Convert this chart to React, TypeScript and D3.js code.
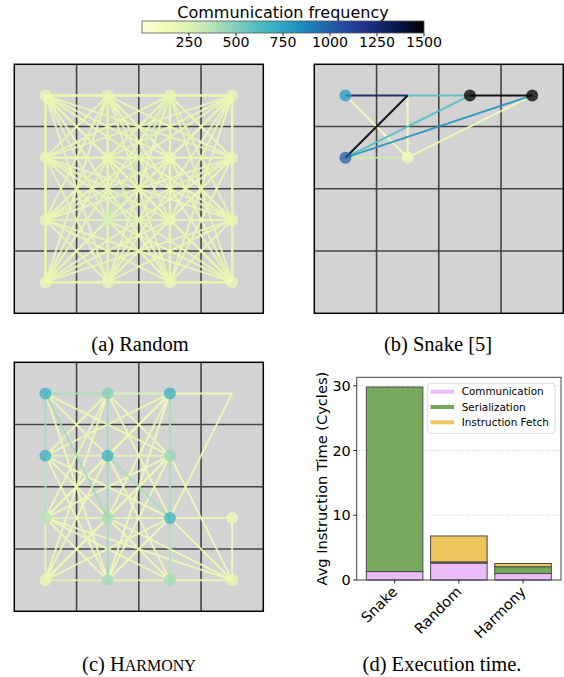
import * as d3 from 'd3'

// colour bar
const CBAR_TICKS = [250, 500, 750, 1000, 1250, 1500]
const CMAP_STOPS = ['#ffffd9', '#edf8b1', '#c7e9b4', '#7fcdbb', '#41b6c4', '#1d91c0', '#225ea8', '#253494', '#081d58', '#000000']

// node frequencies on the 4x4 grid, row by row (null = no core drawn)
const RANDOM_NODES = [170, 180, 180, 170, 180, 180, 180, 180, 180, 280, 180, 180, 170, 180, 180, 170]
const SNAKE_NODES = [800, null, 1500, 1500, 1000, 120, null, null, null, null, null, null, null, null, null, null]
const HARMONY_NODES = [700, 500, 700, null, 700, 700, 450, null, 380, 420, 700, 150, 170, 420, 420, 170]

// [from, to, frequency]
const RANDOM_EDGES = [
  [0, 1, 180], [0, 2, 170], [0, 3, 190], [0, 4, 180], [0, 5, 200], [0, 6, 170], [0, 7, 180], [0, 8, 190],
  [0, 9, 210], [0, 10, 180], [0, 11, 170], [0, 12, 190], [0, 13, 180], [0, 14, 170], [0, 15, 180],
  [1, 2, 190], [1, 3, 170], [1, 4, 180], [1, 5, 180], [1, 6, 200], [1, 7, 170], [1, 8, 180], [1, 9, 220],
  [1, 10, 190], [1, 11, 180], [1, 12, 170], [1, 13, 190], [1, 14, 180], [1, 15, 170],
  [2, 3, 180], [2, 4, 170], [2, 5, 190], [2, 6, 180], [2, 7, 170], [2, 8, 200], [2, 9, 300], [2, 10, 180],
  [2, 11, 190], [2, 12, 180], [2, 13, 170], [2, 14, 180], [2, 15, 190],
  [3, 4, 190], [3, 5, 180], [3, 6, 170], [3, 7, 180], [3, 8, 180], [3, 9, 200], [3, 10, 170], [3, 11, 180],
  [3, 12, 190], [3, 13, 180], [3, 14, 170], [3, 15, 180],
  [4, 5, 180], [4, 6, 170], [4, 7, 190], [4, 8, 180], [4, 9, 210], [4, 10, 180], [4, 11, 170], [4, 12, 180],
  [4, 13, 190], [4, 14, 170], [4, 15, 180],
  [5, 6, 190], [5, 7, 180], [5, 8, 170], [5, 9, 220], [5, 10, 180], [5, 11, 190], [5, 12, 180], [5, 13, 170],
  [5, 14, 180], [5, 15, 190],
  [6, 7, 180], [6, 8, 190], [6, 9, 210], [6, 10, 170], [6, 11, 180], [6, 12, 180], [6, 13, 190], [6, 14, 170],
  [6, 15, 180],
  [7, 8, 170], [7, 9, 200], [7, 10, 180], [7, 11, 190], [7, 12, 180], [7, 13, 170], [7, 14, 180], [7, 15, 190],
  [8, 9, 230], [8, 10, 180], [8, 11, 170], [8, 12, 180], [8, 13, 190], [8, 14, 180], [8, 15, 170],
  [9, 10, 220], [9, 11, 190], [9, 12, 210], [9, 13, 230], [9, 14, 200], [9, 15, 180],
  [10, 11, 180], [10, 12, 170], [10, 13, 190], [10, 14, 180], [10, 15, 170],
  [11, 12, 180], [11, 13, 170], [11, 14, 180], [11, 15, 190],
  [12, 13, 180], [12, 14, 170], [12, 15, 180],
  [13, 14, 190], [13, 15, 180],
  [14, 15, 180],
]

const SNAKE_EDGES = [
  [0, 1, 1300], [1, 2, 620], [2, 3, 1500], [1, 4, 1480], [1, 5, 100], [0, 5, 110],
  [4, 2, 620], [4, 3, 820], [4, 5, 320], [5, 3, 120],
]

const HARMONY_EDGES = [
  [0, 1, 400], [1, 2, 250], [2, 3, 140], [3, 10, 140],
  [0, 4, 420], [4, 8, 380], [8, 12, 220],
  [1, 5, 430], [5, 9, 430], [9, 13, 420],
  [2, 6, 400], [6, 10, 400], [10, 14, 380],
  [4, 5, 220], [5, 6, 200], [8, 9, 220], [9, 10, 200], [10, 11, 150], [11, 15, 150],
  [12, 13, 220], [13, 14, 200], [14, 15, 170],
  [0, 9, 420], [5, 10, 400], [0, 5, 170], [0, 6, 160], [0, 13, 150],
  [1, 4, 170], [1, 8, 160], [1, 6, 170], [1, 10, 150], [1, 12, 140],
  [2, 4, 160], [2, 5, 170], [2, 8, 150], [2, 9, 160], [2, 13, 140],
  [4, 9, 160], [4, 13, 150], [4, 10, 140], [5, 8, 160], [5, 12, 150], [5, 14, 140],
  [6, 8, 140], [6, 9, 160], [6, 12, 140], [6, 13, 150], [6, 15, 140],
  [8, 13, 150], [8, 14, 140], [8, 15, 130], [9, 12, 160], [9, 14, 150], [9, 15, 140],
  [10, 12, 160], [10, 13, 150], [10, 15, 150],
]

// execution time
const METHODS = ['Snake', 'Random', 'Harmony']
const COMMUNICATION = [1.3, 2.6, 1.0]
const SERIALIZATION = [28.5, 0.2, 1.05]
const INSTR_FETCH = [0, 4.0, 0.5]
const Y_TICKS = [0, 10, 20, 30]
const SERIES = ['Communication', 'Serialization', 'Instruction Fetch']
const SERIES_COLORS = ['#edbbf9', '#76a95b', '#eec45c']

const SANS = 'DejaVu Sans, sans-serif'
const SERIF = 'Liberation Serif, Times New Roman, serif'

const cmap = d3.piecewise(d3.interpolateRgb, CMAP_STOPS)
const freqColor = d3.scaleSequential(cmap).domain([0, 1500])

function GridPanel({ x0, y0, size, nodes, edges }) {
  const sx = d3.scaleLinear().domain([0, 4]).range([x0, x0 + size])
  const sy = d3.scaleLinear().domain([0, 4]).range([y0, y0 + size])
  const px = (id) => sx((id % 4) + 0.5)
  const py = (id) => sy(Math.floor(id / 4) + 0.5)
  const sorted = [...edges].sort((a, b) => a[2] - b[2])
  return (
    <g>
      <rect x={x0} y={y0} width={size} height={size} fill="#d3d3d3" />
      {[1, 2, 3].map((k) => (
        <g key={k}>
          <line x1={sx(k)} x2={sx(k)} y1={y0} y2={y0 + size} stroke="#444" strokeWidth={1.6} />
          <line x1={x0} x2={x0 + size} y1={sy(k)} y2={sy(k)} stroke="#444" strokeWidth={1.6} />
        </g>
      ))}
      {sorted.map(([a, b, f], i) => (
        <line key={i} x1={px(a)} y1={py(a)} x2={px(b)} y2={py(b)} stroke={freqColor(f)} strokeWidth={2} strokeOpacity={0.9} />
      ))}
      {nodes.map((f, id) =>
        f == null ? null : <circle key={id} cx={px(id)} cy={py(id)} r={6} fill={freqColor(f)} fillOpacity={0.75} />
      )}
      <rect x={x0} y={y0} width={size} height={size} fill="none" stroke="#000" strokeWidth={1.5} />
    </g>
  )
}

function ColorBar() {
  const x = d3.scaleLinear().domain([0, 1500]).range([142, 424])
  const stops = d3.range(0, 1.0001, 0.05)
  return (
    <g fontFamily={SANS}>
      <defs>
        <linearGradient id="cbar" x1="0" x2="1" y1="0" y2="0">
          {stops.map((t) => (
            <stop key={t} offset={t} stopColor={cmap(t)} />
          ))}
        </linearGradient>
      </defs>
      <text x={283} y={18} textAnchor="middle" fontSize={16}>Communication frequency</text>
      <rect x={x(0)} y={21} width={x(1500) - x(0)} height={12} fill="url(#cbar)" stroke="#555" strokeWidth={0.8} />
      {CBAR_TICKS.map((t) => (
        <g key={t}>
          <line x1={x(t)} x2={x(t)} y1={33} y2={36.5} stroke="#000" strokeWidth={0.8} />
          <text x={x(t)} y={47} textAnchor="middle" fontSize={14.2}>{t}</text>
        </g>
      ))}
    </g>
  )
}

function BarChart() {
  const left = 356.7, right = 561, top = 377.3, bottom = 580
  const x = d3.scaleBand().domain(METHODS).range([left, right]).paddingInner(0.12).paddingOuter(0.15)
  const y = d3.scaleLinear().domain([0, 31.3]).range([bottom, top])
  const rows = METHODS.map((m, i) => ({
    method: m,
    Communication: COMMUNICATION[i],
    Serialization: SERIALIZATION[i],
    'Instruction Fetch': INSTR_FETCH[i],
  }))
  const stacked = d3.stack().keys(SERIES)(rows)
  return (
    <g fontFamily={SANS}>
      {Y_TICKS.filter((t) => t > 0).map((t) => (
        <line key={t} x1={left} x2={right} y1={y(t)} y2={y(t)} stroke="#d9d9d9" strokeWidth={0.8} strokeDasharray="3,2" />
      ))}
      {stacked.map((s, si) => (
        <g key={s.key}>
          {s.map((d, i) =>
            d[1] - d[0] <= 0 ? null : (
              <rect key={i} x={x(METHODS[i])} width={x.bandwidth()} y={y(d[1])} height={y(d[0]) - y(d[1])}
                fill={SERIES_COLORS[si]} stroke="#4a4a4a" strokeWidth={1} />
            )
          )}
        </g>
      ))}
      <rect x={left} y={top} width={right - left} height={bottom - top} fill="none" stroke="#444" strokeWidth={1} />
      {Y_TICKS.map((t) => (
        <g key={t}>
          <line x1={left - 3.5} x2={left} y1={y(t)} y2={y(t)} stroke="#000" strokeWidth={0.8} />
          <text x={left - 6} y={y(t)} dy="0.36em" textAnchor="end" fontSize={14.4}>{t}</text>
        </g>
      ))}
      {METHODS.map((m) => {
        const cx = x(m) + x.bandwidth() / 2
        return (
          <g key={m}>
            <line x1={cx} x2={cx} y1={bottom} y2={bottom + 3.5} stroke="#000" strokeWidth={0.8} />
            <text transform={`translate(${cx},${bottom + 9}) rotate(-45)`} textAnchor="end" dy="0.36em" fontSize={14.4}>{m}</text>
          </g>
        )
      })}
      <text transform={`translate(327,${(top + bottom) / 2}) rotate(-90)`} textAnchor="middle" fontSize={14.6}>
        Avg Instruction Time (Cycles)
      </text>
      <g>
        <rect x={427.7} y={383.3} width={127.3} height={50} rx={3} fill="#fff" fillOpacity={0.85} stroke="#d0d0d0" strokeWidth={0.8} />
        {SERIES.map((s, i) => (
          <g key={s} transform={`translate(0,${391.7 + i * 15.3})`}>
            <line x1={430.5} x2={454} y1={0} y2={0} stroke={SERIES_COLORS[i]} strokeWidth={4} />
            <text x={461.7} y={0} dy="0.36em" fontSize={10.4}>{s}</text>
          </g>
        ))}
      </g>
    </g>
  )
}

export default function App() {
  return (
    <div style={{ position: 'absolute', left: 0, top: 0 }}>
      <svg width={564} height={677} viewBox="0 0 564 677" style={{ display: 'block', background: '#fff' }}>
        <ColorBar />
        <GridPanel x0={14.3} y0={64.3} size={249} nodes={RANDOM_NODES} edges={RANDOM_EDGES} />
        <GridPanel x0={314.3} y0={64.3} size={249} nodes={SNAKE_NODES} edges={SNAKE_EDGES} />
        <GridPanel x0={14.3} y0={362.3} size={249} nodes={HARMONY_NODES} edges={HARMONY_EDGES} />
        <BarChart />
        <g fontFamily={SERIF} fontSize={20.5} textAnchor="middle">
          <text x={140} y={351}>(a) Random</text>
          <text x={438} y={351}>(b) Snake [5]</text>
          <text x={139} y={671}>(c) H<tspan fontSize={16}>ARMONY</tspan></text>
          <text x={442} y={671}>(d) Execution time.</text>
        </g>
      </svg>
    </div>
  )
}
